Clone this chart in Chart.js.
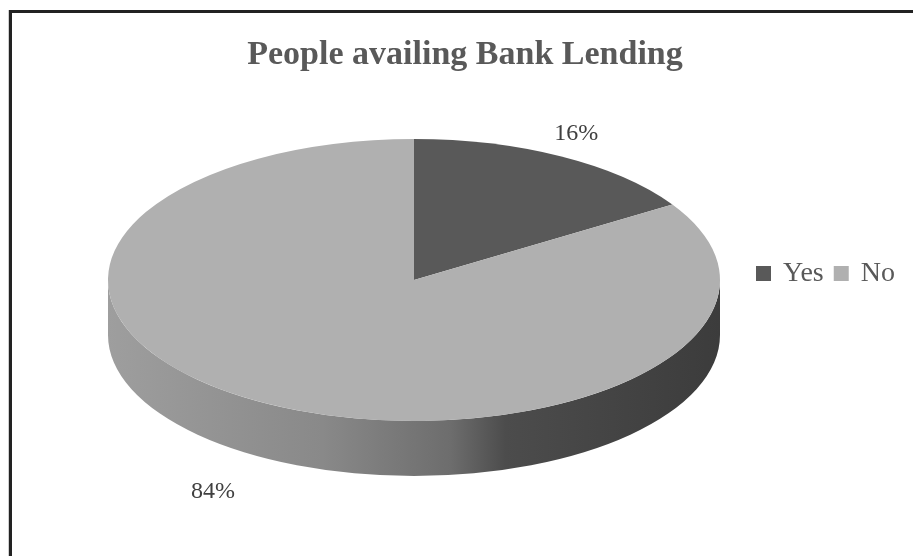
<!DOCTYPE html>
<html>
<head>
<meta charset="utf-8">
<script src="https://cdn.jsdelivr.net/npm/chart.js@4.4.1/dist/chart.umd.min.js"></script>
<style>
  html, body { margin: 0; padding: 0; background: #fff; }
  canvas { display: block; }
</style>
</head>
<body>
<canvas id="mychart" width="913" height="556"></canvas>
<script>
var labels = ["Yes", "No"]
var percents = [16, 84]
var sliceColors = ["#595959", "#b0b0b0"]
var chartTitle = "People availing Bank Lending"

// where the tilted pie sits on the page
var pie = { cx: 414, cy: 280, rx: 306, ry: 141, depth: 55 }

function grey(c, f) {
    var v = parseInt(c.slice(1, 3), 16)
    v = Math.round(v * f)
    return "rgb(" + v + "," + v + "," + v + ")"
}

// parts of a slice that face the viewer (lower half of the ellipse)
function frontParts(a1, a2) {
    var parts = []
    for (var k = -1; k <= 1; k++) {
        var lo = Math.max(a1, k * 2 * Math.PI)
        var hi = Math.min(a2, k * 2 * Math.PI + Math.PI)
        if (hi > lo) parts.push([lo, hi])
    }
    return parts
}

var frame = {
    id: "frame",
    beforeDraw: function(chart) {
        var ctx = chart.ctx
        ctx.save()
        ctx.fillStyle = "#fff"
        ctx.fillRect(0, 0, chart.width, chart.height)
        ctx.fillStyle = "#cfcfcf"
        ctx.fillRect(8, 10, 1, chart.height)
        ctx.fillStyle = "#222"
        ctx.fillRect(9, 10, 3, chart.height)
        ctx.fillRect(9, 10, chart.width, 3)
        ctx.restore()
    }
}

var pie3d = {
    id: "pie3d",
    beforeDatasetsDraw: function(chart) {
        var ctx = chart.ctx
        var meta = chart.getDatasetMeta(0)
        var a0 = meta.data[0]
        var r = a0.outerRadius

        // the side wall
        meta.data.forEach(function(arc, i) {
            var base = chart.data.datasets[0].backgroundColor[i]
            frontParts(arc.startAngle, arc.endAngle).forEach(function(p) {
                var g = ctx.createLinearGradient(pie.cx - pie.rx, 0, pie.cx + pie.rx, 0)
                g.addColorStop(0, grey(base, 0.9))
                g.addColorStop(0.35, grey(base, 0.78))
                g.addColorStop(0.56, grey(base, 0.62))
                g.addColorStop(0.65, grey(base, 0.43))
                g.addColorStop(1, grey(base, 0.34))
                ctx.save()
                ctx.beginPath()
                ctx.ellipse(pie.cx, pie.cy, pie.rx, pie.ry, 0, p[0], p[1])
                ctx.lineTo(pie.cx + pie.rx * Math.cos(p[1]), pie.cy + pie.depth + pie.ry * Math.sin(p[1]))
                ctx.ellipse(pie.cx, pie.cy + pie.depth, pie.rx, pie.ry, 0, p[1], p[0], true)
                ctx.closePath()
                ctx.fillStyle = g
                ctx.fill()
                ctx.restore()
            })
        })

        // squash the library's own pie into the top face
        ctx.save()
        ctx.translate(pie.cx, pie.cy)
        ctx.scale(pie.rx / r, pie.ry / r)
        ctx.translate(-a0.x, -a0.y)
    },
    afterDatasetsDraw: function(chart) {
        var ctx = chart.ctx
        ctx.restore()

        // percentage labels
        var meta = chart.getDatasetMeta(0)
        ctx.save()
        ctx.font = "24px 'Liberation Serif', 'Times New Roman', serif"
        ctx.fillStyle = "#404040"
        ctx.textAlign = "center"
        ctx.textBaseline = "middle"
        meta.data.forEach(function(arc, i) {
            var mid = (arc.startAngle + arc.endAngle) / 2
            var c = Math.cos(mid), s = Math.sin(mid)
            var front = Math.max(0, s)
            var kx = 1.1 + 0.3 * front
            var ky = 1.18 + 0.1 * front
            var x = pie.cx + pie.rx * kx * c
            var y = pie.cy + pie.ry * ky * s + (s > 0 ? pie.depth : 0)
            ctx.fillText(chart.data.datasets[0].data[i] + "%", x, y)
        })
        ctx.restore()
    },
    afterDraw: function(chart) {
        // legend in one row on the right
        var ctx = chart.ctx
        var colors = chart.data.datasets[0].backgroundColor
        ctx.save()
        ctx.font = "28px 'Liberation Serif', 'Times New Roman', serif"
        ctx.textBaseline = "alphabetic"
        var x = 756, y = 281
        chart.data.labels.forEach(function(lab, i) {
            ctx.fillStyle = colors[i]
            ctx.fillRect(x, y - 15, 15, 15)
            x += 27
            ctx.fillStyle = "#595959"
            ctx.fillText(lab, x, y)
            x += ctx.measureText(lab).width + 10
        })
        ctx.restore()
    }
}

var myChart = document.getElementById("mychart").getContext("2d")

var chart = new Chart(myChart, {
    type: "pie",
    data: {
        labels: labels,
        datasets: [
            {
                data: percents,
                backgroundColor: sliceColors,
                borderWidth: 0,
                clip: false
            }
        ]
    },
    options: {
        responsive: false,
        animation: false,
        devicePixelRatio: 1,
        layout: { padding: { left: 17, right: 0, top: 0, bottom: 20 } },
        plugins: {
            legend: { display: false },
            tooltip: { enabled: false },
            title: {
                display: true,
                text: chartTitle,
                color: "#595959",
                font: { family: "'Liberation Serif', 'Times New Roman', serif", size: 34, weight: "bold" },
                padding: { top: 35, bottom: 10 }
            }
        }
    },
    plugins: [frame, pie3d]
})
</script>
</body>
</html>
